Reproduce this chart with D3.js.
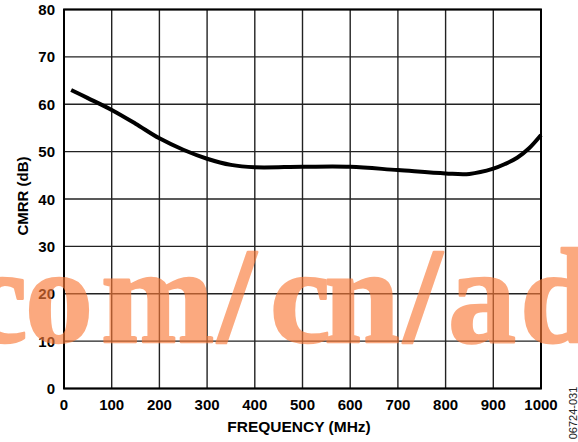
<!DOCTYPE html>
<html><head><meta charset="utf-8">
<script src="https://cdn.jsdelivr.net/npm/d3@7"></script>
<style>body{margin:0;background:#fff}svg{display:block}</style>
</head><body>
<script>
const freqMHz = [15, 50, 100, 150, 200, 250, 300, 350, 400, 500, 600, 700, 800, 850, 900, 925, 950, 975, 1000];
const cmrrDB  = [63.0, 61.3, 58.8, 55.9, 52.8, 50.4, 48.5, 47.2, 46.7, 46.8, 46.8, 46.1, 45.4, 45.3, 46.4, 47.4, 48.7, 50.7, 53.5];
const xTicks = [0,100,200,300,400,500,600,700,800,900,1000];
const yTicks = [0,10,20,30,40,50,60,70,80];
const xTitle = "FREQUENCY (MHz)";
const yTitle = "CMRR (dB)";
const watermark = "com/cn/ad";
const figId = "06724-031";

const W=578,H=442;
const svg=d3.select("body").append("svg").attr("width",W).attr("height",H);
const L=64,R=541,T=9.5,B=388.5;
const x=d3.scaleLinear().domain([0,1000]).range([L,R]);
const y=d3.scaleLinear().domain([0,80]).range([B,T]);
const font="'Liberation Sans', Arial, sans-serif";

const g=svg.append("g");
g.selectAll(".vx").data(xTicks).join("line").attr("x1",d=>x(d)).attr("x2",d=>x(d)).attr("y1",T).attr("y2",B).attr("stroke","#222").attr("stroke-width",1.4);
g.selectAll(".hy").data(yTicks).join("line").attr("y1",d=>y(d)).attr("y2",d=>y(d)).attr("x1",L).attr("x2",R).attr("stroke","#222").attr("stroke-width",1.4);
g.append("rect").attr("x",L).attr("y",T).attr("width",R-L).attr("height",B-T).attr("fill","none").attr("stroke","#000").attr("stroke-width",2);

const line=d3.line().x((d,i)=>x(freqMHz[i])).y(d=>y(d)).curve(d3.curveCatmullRom.alpha(0.5));
g.append("path").datum(cmrrDB).attr("d",line).attr("fill","none").attr("stroke","#000").attr("stroke-width",4).attr("stroke-linecap","butt");

g.selectAll(".xl").data(xTicks).join("text").attr("x",d=>x(d)).attr("y",409.5).attr("text-anchor","middle")
 .attr("font-family",font).attr("font-weight","bold").attr("font-size",15).text(d=>d);
g.selectAll(".yl").data(yTicks).join("text").attr("x",55).attr("y",d=>y(d)+5.5).attr("text-anchor","end")
 .attr("font-family",font).attr("font-weight","bold").attr("font-size",15).text(d=>d);
g.append("text").attr("x",299).attr("y",431.5).attr("text-anchor","middle").attr("font-family",font).attr("font-weight","bold").attr("font-size",15.5).text(xTitle);
g.append("text").attr("transform",`translate(28,196) rotate(-90)`).attr("text-anchor","middle").attr("font-family",font).attr("font-weight","bold").attr("font-size",15).text(yTitle);
g.append("text").attr("transform",`translate(577,413) rotate(-90)`).attr("text-anchor","middle").attr("font-family",font).attr("font-size",11).attr("fill","#222").text(figId);

const glyphX=[-33,25,101,218,270,324,404,448,520];
const wm=svg.append("g").attr("opacity",0.64);
wm.append("text").attr("x",glyphX.join(" ")).attr("y",341.5).attr("font-family","'Liberation Serif','Times New Roman',serif").attr("font-weight","bold")
 .attr("font-size",136).attr("fill","#FA7A38").attr("stroke","#FA7A38").attr("stroke-width",2.5).attr("stroke-linejoin","round").text(watermark);
</script>
</body></html>
